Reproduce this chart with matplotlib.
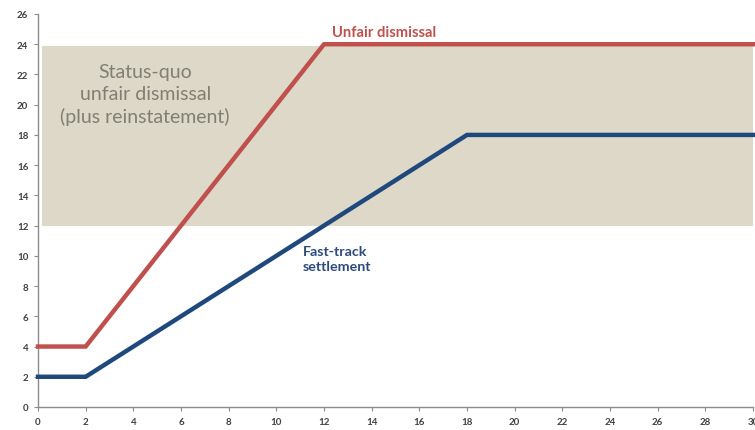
import matplotlib
matplotlib.use("Agg")
import matplotlib.pyplot as plt
from matplotlib.patches import Rectangle

unfair_x = [0, 2, 12, 30]
unfair_y = [4, 4, 24, 24]
fast_x = [0, 2, 18, 30]
fast_y = [2, 2, 18, 18]
band_x = [0.17, 30]
band_y = [12, 23.9]
xticks = list(range(0, 31, 2))
yticks = list(range(0, 27, 2))

plt.rcParams['font.family'] = ['Lato', 'DejaVu Sans']

fig = plt.figure(figsize=(7.55, 4.31), dpi=100)
ax = fig.add_axes([38/755, 1 - 408/431, (753-38)/755, (408-15)/431])

ax.add_patch(Rectangle((band_x[0], band_y[0]), band_x[1]-band_x[0], band_y[1]-band_y[0],
                       facecolor='#ddd8c8', edgecolor='none', zorder=1))
ax.plot(unfair_x, unfair_y, color='#c0504d', lw=3.2, zorder=3, solid_joinstyle='miter', clip_on=False)
ax.plot(fast_x, fast_y, color='#1f497d', lw=3.2, zorder=3, solid_joinstyle='miter', clip_on=False)

ax.text(4.5, 20.7, "Status-quo\nunfair dismissal\n(plus reinstatement)", ha='center', va='center',
        fontsize=14, color='#7f7f72', linespacing=1.35, zorder=4)
ax.text(14.5, 24.8, "Unfair dismissal", ha='center', va='center', fontsize=10.6,
        fontweight='bold', color='#c0504d', zorder=4)
ax.text(11.1, 9.8, "Fast-track\nsettlement", ha='left', va='center', fontsize=10.3,
        fontweight='bold', color='#2c4a7c', linespacing=1.3, zorder=4)

ax.set_xlim(0, 30)
ax.set_ylim(0, 26)
ax.set_xticks(xticks)
ax.set_yticks(yticks)
for s in ['top', 'right']:
    ax.spines[s].set_visible(False)
for s in ['left', 'bottom']:
    ax.spines[s].set_color('#8c8c8c')
    ax.spines[s].set_linewidth(1)
ax.tick_params(axis='both', direction='out', length=3, color='#8c8c8c', labelsize=7,
               labelcolor='#404040', pad=4)
for lab in ax.get_xticklabels() + ax.get_yticklabels():
    lab.set_fontweight('bold')

fig.savefig('out.png', dpi=100)
